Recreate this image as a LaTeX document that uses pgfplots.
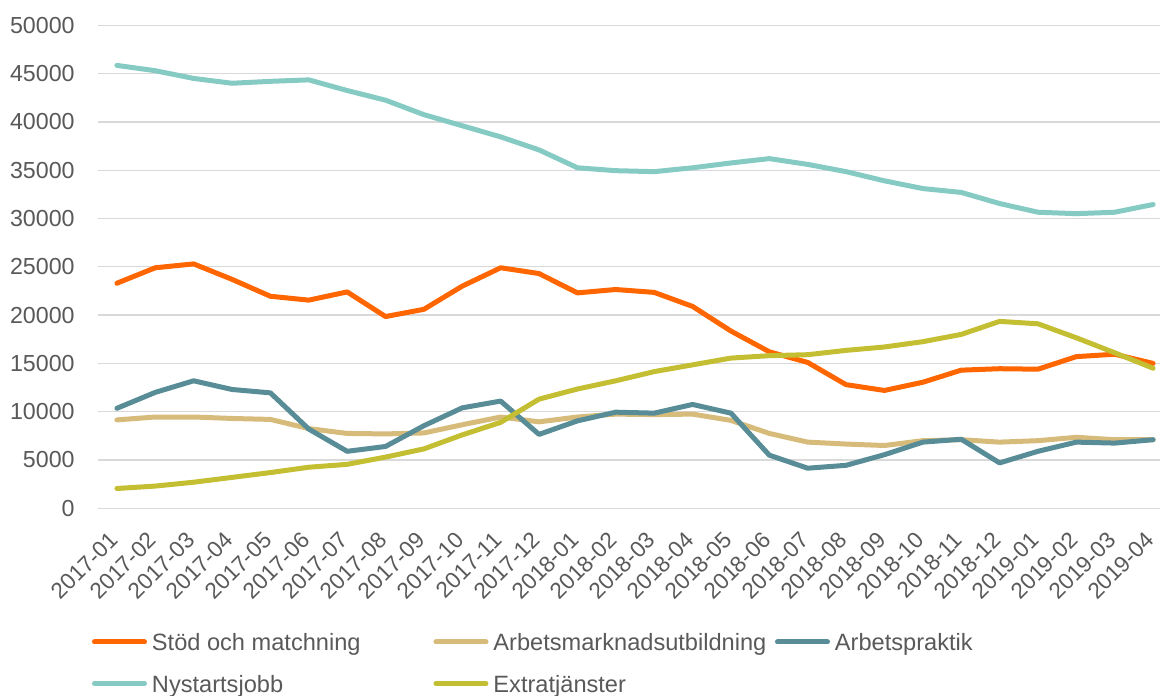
\documentclass[border=0pt]{standalone}
\usepackage{fontspec}
\setmainfont{Liberation Sans}
\usepackage{pgfplots}
\pgfplotsset{compat=1.18}
\definecolor{cStod}{HTML}{FF6600}
\definecolor{cArbm}{HTML}{D6BB7A}
\definecolor{cArbp}{HTML}{588C96}
\definecolor{cNyst}{HTML}{85CBC4}
\definecolor{cExtr}{HTML}{C4BE32}
\definecolor{gridgray}{HTML}{D9D9D9}
\definecolor{labelgray}{HTML}{595959}
\pgfplotstableread{
i stod arbm arbp nyst extr
0 23300 9150 10350 45850 2050
1 24900 9450 12000 45300 2300
2 25300 9450 13200 44500 2700
3 23700 9300 12300 44000 3200
4 21950 9200 11950 44200 3700
5 21550 8250 8200 44350 4250
6 22400 7750 5900 43250 4550
7 19850 7700 6400 42250 5300
8 20600 7800 8550 40750 6150
9 23000 8650 10400 39600 7600
10 24900 9450 11100 38450 8900
11 24300 8950 7650 37100 11300
12 22300 9450 9050 35250 12350
13 22650 9750 9950 34950 13200
14 22350 9700 9850 34850 14150
15 20900 9750 10750 35250 14850
16 18350 9100 9850 35750 15550
17 16200 7750 5500 36200 15800
18 15100 6850 4150 35600 15900
19 12800 6650 4450 34850 16350
20 12200 6500 5550 33900 16700
21 13050 7000 6850 33100 17250
22 14300 7100 7150 32700 18000
23 14450 6850 4700 31550 19350
24 14400 7000 5900 30650 19100
25 15700 7350 6850 30500 17650
26 15950 7100 6750 30650 16100
27 15000 7100 7100 31450 14500
}\data
\begin{document}
\begin{tikzpicture}
\useasboundingbox (0,0) rectangle (580pt,347.5pt);
\begin{axis}[
  at={(48.85pt,93.35pt)}, anchor=south west,
  scale only axis, width=531.15pt, height=241.5pt,
  xmin=-0.5, xmax=27.18, ymin=0, ymax=50000,
  xtick={0,...,27},
  xticklabels={2017-01,2017-02,2017-03,2017-04,2017-05,2017-06,2017-07,2017-08,2017-09,2017-10,2017-11,2017-12,2018-01,2018-02,2018-03,2018-04,2018-05,2018-06,2018-07,2018-08,2018-09,2018-10,2018-11,2018-12,2019-01,2019-02,2019-03,2019-04},
  ytick={0,5000,...,50000},
  scaled y ticks=false,
  ymajorgrids, grid style={draw=gridgray, line width=0.65pt},
  axis line style={draw=none}, major tick length=0pt,
  /pgf/number format/assume math mode=true,
  /pgf/number format/1000 sep={},
  tick label style={text=labelgray},
  yticklabel style={font=\fontsize{11.6}{14}\selectfont, anchor=east, inner sep=0pt, xshift=-11.35pt},
  xticklabel style={font=\fontsize{11.3}{14}\selectfont, yshift=-14pt, xshift=-1.3pt, rotate=45, anchor=east, inner sep=0pt},
  legend columns=3,
  legend cell align=left,
  legend style={at={(-0.00537,-0.259)}, anchor=north west, draw=none, fill=none,
    inner sep=0pt, outer sep=0pt, row sep=12.15pt, column sep=0pt,
    font=\fontsize{11.8}{14}\selectfont, text=labelgray,
    nodes={inner sep=0pt, text height=8.6pt, text depth=0pt},
    /tikz/every odd column/.append style={column sep=2.5pt}},
  legend image code/.code={\draw[#1, line cap=round] (1.25pt,0pt) -- (26.25pt,0pt);},
  every axis plot/.append style={line width=2.5pt, line join=round, line cap=round},
]
\addplot[color=cStod] table[x=i,y=stod]{\data};
\addlegendentry{\makebox[140.75pt][l]{Stöd och matchning}}
\addplot[color=cArbm] table[x=i,y=arbm]{\data};
\addlegendentry{\makebox[140.75pt][l]{Arbetsmarknadsutbildning}}
\addplot[color=cArbp] table[x=i,y=arbp]{\data};
\addlegendentry{\makebox[140.75pt][l]{Arbetspraktik}}
\addplot[color=cNyst] table[x=i,y=nyst]{\data};
\addlegendentry{\makebox[140.75pt][l]{Nystartsjobb}}
\addplot[color=cExtr] table[x=i,y=extr]{\data};
\addlegendentry{\makebox[140.75pt][l]{Extratjänster}}
\end{axis}
\end{tikzpicture}
\end{document}
